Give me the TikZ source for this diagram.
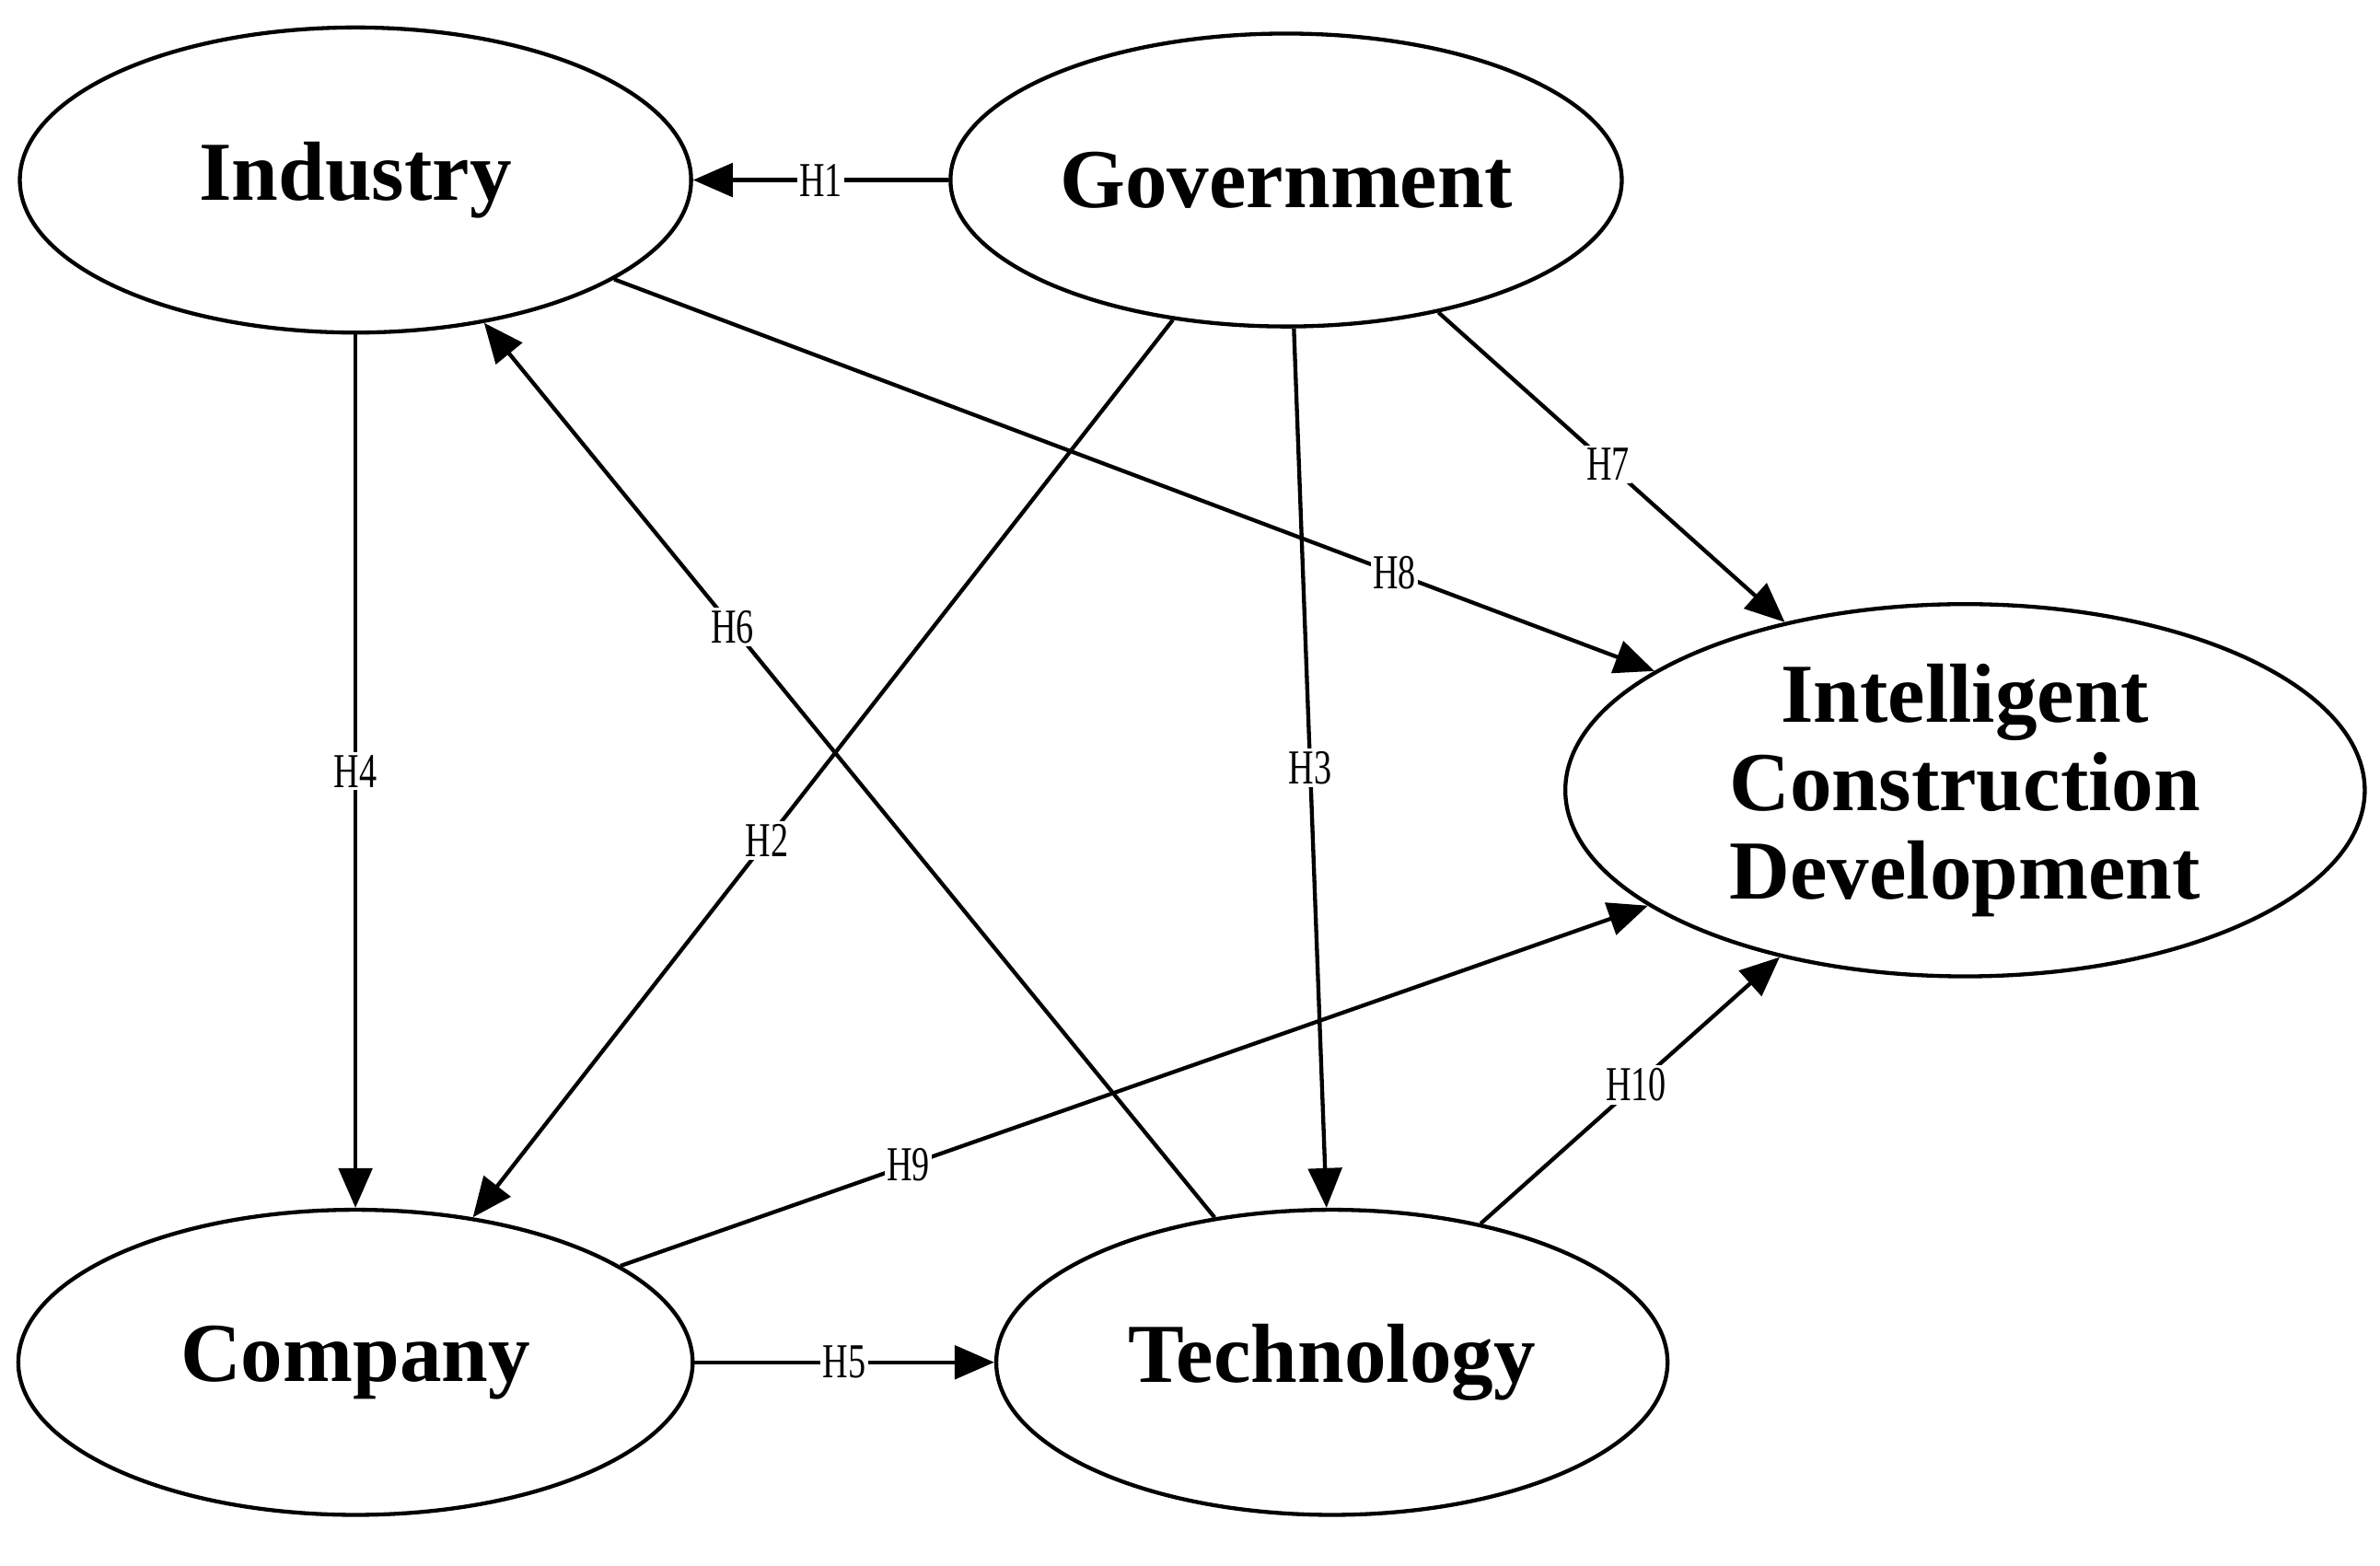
\documentclass[tikz,border=0pt]{standalone}
\usepackage{fontspec}
\setmainfont{Liberation Serif}
\usetikzlibrary{shapes.geometric,arrows.meta}
\begin{document}
\begin{tikzpicture}[x=1pt,y=-1pt,
  ell/.style={draw,line width=2.6pt,ellipse,inner sep=0pt,font=\fontsize{55}{60}\selectfont\bfseries,align=center},
  ar/.style={line width=2.6pt,-{Triangle[length=26pt,width=22pt]}},
  lab/.style={fill=white,inner sep=2pt,font=\fontsize{32}{34}\selectfont,xscale=0.72}]
\useasboundingbox (0,0) rectangle (1560,1026);
\node[ell,minimum width=440pt,minimum height=200pt] (ind) at (233,118) {Industry};
\node[ell,minimum width=440pt,minimum height=192pt] (gov) at (843,118) {Government};
\node[ell,minimum width=524pt,minimum height=244pt] (icd) at (1288,518) {Intelligent\\[-2pt]Construction\\[-2pt]Development};
\node[ell,minimum width=442pt,minimum height=200pt] (com) at (233,893) {Company};
\node[ell,minimum width=440pt,minimum height=200pt] (tec) at (873,893) {Technology};
\draw[ar] (gov) -- node[lab,pos=0.5]{H1} (ind);
\draw[ar] (gov.-129) -- node[lab,pos=0.58]{H2} (com.51);
\draw[ar] (gov.-87) -- node[lab,pos=0.5]{H3} (tec.92);
\draw[ar] (ind) -- node[lab,pos=0.5]{H4} (com);
\draw[ar] (com) -- node[lab,pos=0.5]{H5} (tec);
\draw[ar] (tec.129) -- node[lab,pos=0.66]{H6} (ind.-48);
\draw[ar] (gov.-41) -- node[lab,pos=0.49]{H7} (icd.137);
\draw[ar] (ind.-21) -- node[lab,pos=0.75]{H8} (icd.159);
\draw[ar] (com.20) -- node[lab,pos=0.28]{H9} (icd.-160);
\draw[ar] (tec.43) -- node[lab,pos=0.52]{H10} (icd.-138);
\end{tikzpicture}
\end{document}
